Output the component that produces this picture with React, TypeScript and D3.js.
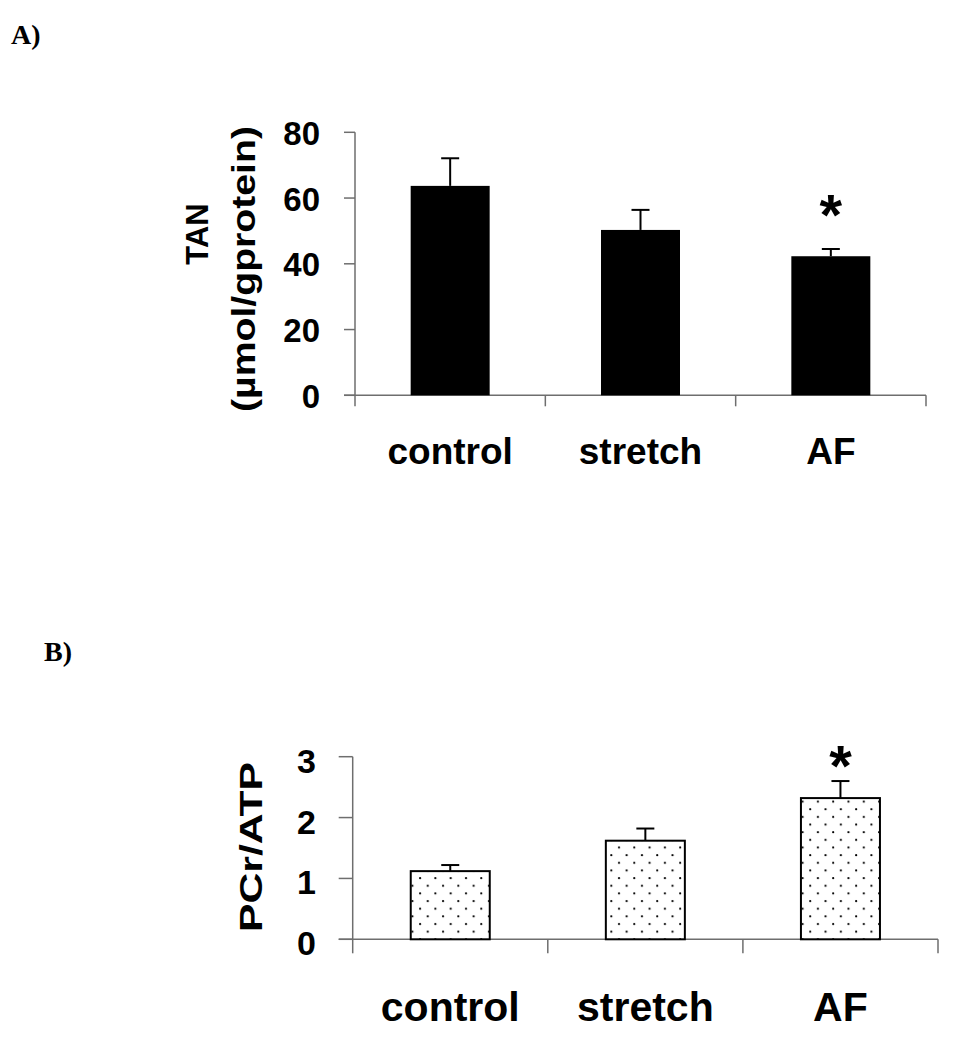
import * as React from "react";
import * as d3 from "d3";

const categories = ["control", "stretch", "AF"];
const tanMean = [63.7, 50.3, 42.3];
const tanErr = [8.4, 6.1, 2.2];
const ratioMean = [1.12, 1.62, 2.32];
const ratioErr = [0.1, 0.2, 0.28];
const significant = [false, false, true];
const tanTicks = [0, 20, 40, 60, 80];
const ratioTicks = [0, 1, 2, 3];

const SANS = "'Liberation Sans', Arial, sans-serif";
const SERIF = "'Liberation Serif', 'Times New Roman', serif";
const AXIS = "#6e6e6e";

type PanelProps = {
  means: number[];
  errs: number[];
  ticks: number[];
  x0: number;
  x1: number;
  yTop: number;
  yBottom: number;
  yMax: number;
  pad: number;
  tickLen: number;
  tickFont: number;
  tickRight: number;
  tickDy: number;
  catFont: number;
  catBaseline: number;
  dotted?: boolean;
  starDy: number;
};

const Panel = (p: PanelProps) => {
  const x = d3
    .scaleBand<string>()
    .domain(categories)
    .range([p.x0, p.x1])
    .paddingInner(p.pad)
    .paddingOuter(p.pad / 2);
  const y = d3.scaleLinear().domain([0, p.yMax]).range([p.yBottom, p.yTop]);
  const step = x.step();
  const bw = x.bandwidth();
  const cap = 18;

  return (
    <g>
      {/* y axis */}
      <line x1={p.x0} x2={p.x0} y1={p.yTop} y2={p.yBottom + p.tickLen} stroke={AXIS} strokeWidth={1.5} />
      {p.ticks.map((t) => (
        <g key={t}>
          <line x1={p.x0 - p.tickLen} x2={p.x0} y1={y(t)} y2={y(t)} stroke={AXIS} strokeWidth={1.5} />
          <text
            x={p.tickRight}
            y={y(t) + p.tickDy}
            textAnchor="end"
            fontFamily={SANS}
            fontWeight="bold"
            fontSize={p.tickFont}
          >
            {t}
          </text>
        </g>
      ))}
      {/* x axis */}
      <line x1={p.x0 - p.tickLen} x2={p.x1} y1={p.yBottom} y2={p.yBottom} stroke={AXIS} strokeWidth={1.5} />
      {categories.map((c, i) => (
        <line
          key={"b" + c}
          x1={p.x0 + step * (i + 1)}
          x2={p.x0 + step * (i + 1)}
          y1={p.yBottom}
          y2={p.yBottom + p.tickLen}
          stroke={AXIS}
          strokeWidth={1.5}
        />
      ))}
      {/* bars */}
      {categories.map((c, i) => {
        const bx = x(c) as number;
        const cx = bx + bw / 2;
        const top = y(p.means[i]);
        const et = y(p.means[i] + p.errs[i]);
        return (
          <g key={c}>
            <line x1={cx} x2={cx} y1={top} y2={et} stroke="#000" strokeWidth={2} />
            <line x1={cx - cap / 2} x2={cx + cap / 2} y1={et} y2={et} stroke="#000" strokeWidth={2} />
            {p.dotted ? (
              <rect x={bx} y={top} width={bw} height={p.yBottom - top} fill="url(#dots)" stroke="#000" strokeWidth={2} />
            ) : (
              <rect x={bx} y={top} width={bw} height={p.yBottom - top} fill="#000" />
            )}
            {significant[i] && (
              <text
                x={cx}
                y={et + p.starDy}
                textAnchor="middle"
                fontFamily={SANS}
                fontWeight="bold"
                fontSize={58}
              >
                *
              </text>
            )}
            <text
              x={cx}
              y={p.catBaseline}
              textAnchor="middle"
              fontFamily={SANS}
              fontWeight="bold"
              fontSize={p.catFont}
            >
              {c}
            </text>
          </g>
        );
      })}
    </g>
  );
};

export default function App() {
  return (
    <svg
      width={956}
      height={1050}
      viewBox="0 0 956 1050"
      style={{ position: "absolute", left: 0, top: 0, background: "#fff" }}
    >
      <defs>
        <pattern id="dots" patternUnits="userSpaceOnUse" width={15.3} height={15.3} x={4} y={3}>
          <rect width={15.3} height={15.3} fill="#fff" />
          <circle cx={3} cy={3} r={1.1} fill="#000" />
          <circle cx={10.65} cy={10.65} r={1.1} fill="#000" />
        </pattern>
      </defs>

      <text x={11} y={44} fontFamily={SERIF} fontWeight="bold" fontSize={28}>
        A)
      </text>
      <text x={44} y={661} fontFamily={SERIF} fontWeight="bold" fontSize={28}>
        B)
      </text>

      {/* Panel A */}
      <Panel
        means={tanMean}
        errs={tanErr}
        ticks={tanTicks}
        x0={355}
        x1={926}
        yTop={132.3}
        yBottom={395.3}
        yMax={80}
        pad={0.585}
        tickLen={11}
        tickFont={33}
        tickRight={320}
        tickDy={12.5}
        catFont={37}
        catBaseline={464}
        starDy={-14}
      />
      <text
        transform="translate(208,234) rotate(-90)"
        textAnchor="middle"
        fontFamily={SANS}
        fontWeight="bold"
        fontSize={31}
      >
        TAN
      </text>
      <text
        transform="translate(255,269) rotate(-90)"
        textAnchor="middle"
        fontFamily={SANS}
        fontWeight="bold"
        fontSize={34}
        textLength={286}
        lengthAdjust="spacingAndGlyphs"
      >
        (µmol/gprotein)
      </text>

      {/* Panel B */}
      <Panel
        means={ratioMean}
        errs={ratioErr}
        ticks={ratioTicks}
        x0={352.7}
        x1={938}
        yTop={756.7}
        yBottom={939.3}
        yMax={3}
        pad={0.595}
        tickLen={14}
        tickFont={34}
        tickRight={316}
        tickDy={16}
        catFont={41}
        catBaseline={1021}
        dotted
        starDy={5}
      />
      <text
        transform="translate(262,847) rotate(-90)"
        textAnchor="middle"
        fontFamily={SANS}
        fontWeight="bold"
        fontSize={31}
        textLength={170}
        lengthAdjust="spacingAndGlyphs"
      >
        PCr/ATP
      </text>
    </svg>
  );
}
